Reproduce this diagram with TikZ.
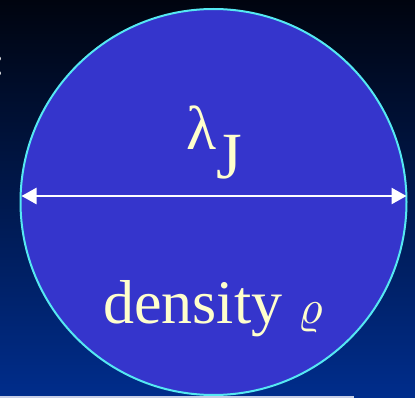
\documentclass[tikz,border=0pt]{standalone}
\usepackage{fontspec}
\setmainfont{Liberation Serif}
\usetikzlibrary{arrows.meta}

\definecolor{skytop}{HTML}{00040F}
\definecolor{skymid}{HTML}{001A50}
\definecolor{skybot}{HTML}{002D8C}
\definecolor{cloudfill}{HTML}{3535CC}
\definecolor{cloudrim}{HTML}{55E8F2}
\definecolor{labelcol}{HTML}{FFFFCC}
\definecolor{rulecol}{HTML}{C8D0E8}

\begin{document}
\begin{tikzpicture}[x=1pt, y=1pt,
  cloud/.style={circle, draw=cloudrim, fill=cloudfill, line width=2pt,
    minimum size=386pt, inner sep=0pt},
  lbl/.style={text=labelcol, inner sep=0pt, font=\fontsize{62}{62}\selectfont},
  dia/.style={{Triangle[length=15pt,width=16pt]}-{Triangle[length=15pt,width=16pt]},
    draw=white, fill=white, line width=2.5pt}
]
\useasboundingbox (0,0) rectangle (415,-398);
\shade[top color=skytop, middle color=skymid, bottom color=skybot] (0,0) rectangle (415,-398);
\node[text=white, inner sep=0pt, anchor=base, font=\fontsize{40}{40}\selectfont] (colon) at (-0.5,-76) {:};
\node[cloud] (cloud) at (213.5,-202) {};
\coordinate (wedge) at ([yshift=6pt, xshift=2pt]cloud.west);
\coordinate (eedge) at ([yshift=6pt, xshift=-1pt]cloud.east);
\draw[dia] (wedge) -- (eedge);
\node[lbl, anchor=base west] (jeans) at (186,-150) {λ\raisebox{-29pt}{\fontsize{66}{66}\selectfont J}};
\node[lbl, anchor=base west] (dens) at (103,-323) {density \scalebox{4.8}{\normalsize$\varrho$}};
\coordinate (rulea) at (0,-397);
\coordinate (ruleb) at (354,-397);
\draw[rulecol, line width=2pt] (rulea) -- (ruleb);
\end{tikzpicture}
\end{document}
